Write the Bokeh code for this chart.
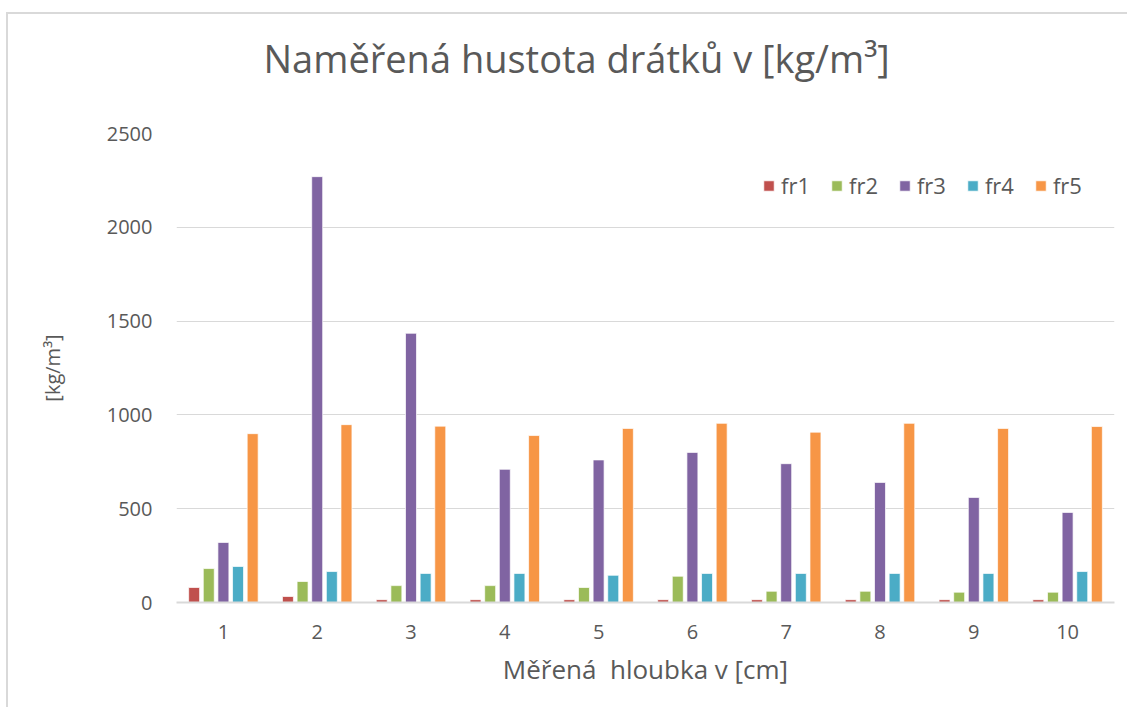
from bokeh.plotting import figure
from bokeh.models import (ColumnDataSource, FactorRange, Range1d, FixedTicker,
                          Legend, LegendItem, Title)
from bokeh.transform import dodge
from bokeh.embed import file_html
from bokeh.resources import INLINE

categories = ["1", "2", "3", "4", "5", "6", "7", "8", "9", "10"]
fr1 = [80, 32, 15, 15, 15, 15, 15, 15, 15, 15]
fr2 = [181, 112, 90, 90, 80, 140, 60, 60, 55, 55]
fr3 = [320, 2270, 1435, 710, 760, 800, 740, 640, 560, 480]
fr4 = [192, 165, 155, 155, 145, 155, 155, 155, 155, 165]
fr5 = [900, 948, 940, 890, 928, 955, 908, 955, 928, 938]
series_names = ["fr1", "fr2", "fr3", "fr4", "fr5"]
y_ticks = [0, 500, 1000, 1500, 2000, 2500]

colors = ["#C0504D", "#9BBB59", "#8064A2", "#4BACC6", "#F79646"]
offsets = [-0.312, -0.156, 0.0, 0.156, 0.312]
TXT = "#595959"
FONT = "Open Sans"

src = ColumnDataSource(dict(x=categories, fr1=fr1, fr2=fr2, fr3=fr3, fr4=fr4, fr5=fr5))

p = figure(x_range=FactorRange(*categories), y_range=Range1d(0, 2500),
           frame_width=938, frame_height=469,
           min_border_left=176, min_border_right=13,
           min_border_top=133, min_border_bottom=105,
           output_backend="svg", toolbar_location=None, title=None)

# spacer between the title and the plot frame
p.add_layout(Title(text="\u00a0", text_font=FONT, text_font_size="12px",
                   standoff=4), "above")
p.add_layout(Title(text="Naměřená hustota drátků v [kg/m³]", align="left",
                   text_font=FONT, text_font_size="38px", text_font_style="normal",
                   text_color=TXT, offset=87, standoff=54), "above")

items = []
for name, col, off in zip(series_names, colors, offsets):
    r = p.vbar(x=dodge("x", off, range=p.x_range), top=name, width=0.117,
               source=src, fill_color=col, line_color="white", line_alpha=0.7,
               line_width=1)
    items.append(LegendItem(label=name, renderers=[r]))

legend = Legend(items=items, orientation="horizontal", location=(586, 402),
                label_text_font=FONT, label_text_font_size="22px",
                label_text_color=TXT, glyph_width=13, glyph_height=13,
                label_standoff=6, spacing=20, padding=0, margin=0,
                border_line_color=None, background_fill_alpha=0)
p.add_layout(legend, "center")

p.outline_line_color = None
p.background_fill_color = "white"
p.border_fill_color = None

p.xgrid.grid_line_color = None
p.ygrid.grid_line_color = "#d9d9d9"
p.ygrid.grid_line_width = 1

p.yaxis.ticker = FixedTicker(ticks=y_ticks)
p.yaxis.axis_line_color = None
p.yaxis.major_tick_line_color = None
p.yaxis.minor_tick_line_color = None
p.yaxis.major_label_standoff = 18
p.yaxis.major_label_text_font = FONT
p.yaxis.major_label_text_font_size = "20px"
p.yaxis.major_label_text_color = TXT
p.yaxis.axis_label = "[kg/m³]"
p.yaxis.axis_label_text_font = FONT
p.yaxis.axis_label_text_font_size = "20px"
p.yaxis.axis_label_text_font_style = "normal"
p.yaxis.axis_label_text_color = TXT
p.yaxis.axis_label_standoff = 38

p.xaxis.axis_line_color = "#d9d9d9"
p.xaxis.axis_line_width = 2
p.xaxis.major_tick_line_color = None
p.xaxis.minor_tick_line_color = None
p.xaxis.major_label_standoff = 16
p.xaxis.major_label_text_font = FONT
p.xaxis.major_label_text_font_size = "20px"
p.xaxis.major_label_text_color = TXT
p.xaxis.axis_label = "Měřená\u00a0 hloubka v [cm]"
p.xaxis.axis_label_text_font = FONT
p.xaxis.axis_label_text_font_size = "26px"
p.xaxis.axis_label_text_font_style = "normal"
p.xaxis.axis_label_text_color = TXT
p.xaxis.axis_label_standoff = 9

p.styles = {
    "background": "linear-gradient(#d9d9d9, #d9d9d9) 6px 12px / 2px 100% no-repeat, "
                  "linear-gradient(#d9d9d9, #d9d9d9) 6px 12px / 100% 2px no-repeat, white"
}

open("out.html", "w").write(file_html(p, INLINE))
